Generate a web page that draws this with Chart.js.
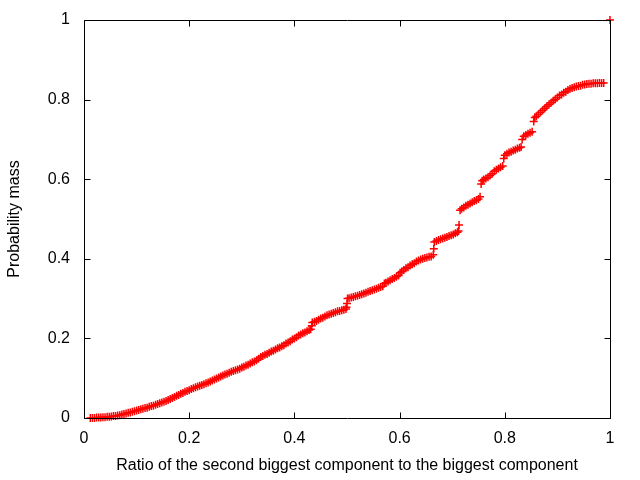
<!DOCTYPE html>
<html>
<head>
<meta charset="utf-8">
<script src="https://cdn.jsdelivr.net/npm/chart.js@4.4.1/dist/chart.umd.min.js"></script>
<style>
html,body{margin:0;padding:0;background:#fff;}
#wrap{width:640px;height:480px;}
</style>
</head>
<body>
<div id="wrap"><canvas id="c" width="640" height="480"></canvas></div>
<script>
const xTitle = "Ratio of the second biggest component to the biggest component";
const yTitle = "Probability mass";
const xTicks = [0, 0.2, 0.4, 0.6, 0.8, 1];
const yTicks = [0, 0.2, 0.4, 0.6, 0.8, 1];

const ratio = [
0.012,0.016,0.020,0.024,0.028,0.032,0.036,0.040,0.044,0.048,
0.052,0.056,0.060,0.064,0.068,0.072,0.076,0.080,0.084,0.088,
0.092,0.096,0.100,0.104,0.108,0.112,0.116,0.120,0.124,0.128,
0.132,0.136,0.140,0.144,0.148,0.152,0.156,0.160,0.164,0.168,
0.172,0.176,0.180,0.184,0.188,0.192,0.196,0.200,0.204,0.208,
0.212,0.216,0.220,0.224,0.228,0.232,0.236,0.240,0.244,0.248,
0.252,0.256,0.260,0.264,0.268,0.272,0.276,0.280,0.284,0.288,
0.292,0.296,0.300,0.304,0.308,0.312,0.316,0.320,0.324,0.328,
0.332,0.336,0.340,0.344,0.348,0.352,0.356,0.360,0.364,0.368,
0.372,0.376,0.380,0.384,0.388,0.392,0.396,0.400,0.404,0.408,
0.412,0.416,0.420,0.424,0.428,0.431,0.433,0.434,0.438,0.442,
0.446,0.450,0.454,0.458,0.462,0.466,0.470,0.474,0.478,0.482,
0.486,0.490,0.494,0.498,0.499,0.500,0.501,0.504,0.508,0.512,
0.516,0.520,0.524,0.528,0.532,0.536,0.540,0.544,0.548,0.552,
0.556,0.560,0.564,0.568,0.571,0.574,0.578,0.582,0.586,0.590,
0.594,0.598,0.601,0.604,0.608,0.612,0.616,0.620,0.624,0.628,
0.632,0.636,0.640,0.644,0.648,0.652,0.656,0.660,0.664,0.665,
0.666,0.670,0.674,0.678,0.682,0.686,0.690,0.694,0.698,0.702,
0.706,0.710,0.712,0.713,0.715,0.718,0.722,0.726,0.730,0.734,
0.738,0.742,0.746,0.750,0.753,0.755,0.757,0.760,0.764,0.768,
0.772,0.776,0.780,0.784,0.788,0.792,0.796,0.798,0.800,0.804,
0.808,0.812,0.816,0.820,0.824,0.828,0.831,0.833,0.836,0.840,
0.844,0.848,0.852,0.855,0.857,0.860,0.864,0.868,0.872,0.876,
0.880,0.884,0.888,0.892,0.896,0.900,0.904,0.908,0.912,0.916,
0.920,0.924,0.928,0.932,0.936,0.940,0.944,0.948,0.952,0.956,
0.960,0.964,0.968,0.972,0.976,0.980,0.984,0.988,1.000
];
const mass = [
0.000,0.000,0.000,0.001,0.001,0.001,0.002,0.002,0.003,0.003,
0.004,0.005,0.005,0.006,0.007,0.009,0.010,0.011,0.013,0.014,
0.016,0.017,0.019,0.020,0.022,0.023,0.025,0.026,0.028,0.030,
0.031,0.033,0.035,0.037,0.039,0.041,0.043,0.045,0.048,0.050,
0.053,0.056,0.058,0.061,0.063,0.066,0.068,0.070,0.073,0.075,
0.077,0.079,0.081,0.083,0.085,0.087,0.089,0.092,0.094,0.097,
0.099,0.102,0.104,0.107,0.109,0.111,0.114,0.116,0.118,0.120,
0.122,0.124,0.127,0.129,0.132,0.134,0.137,0.140,0.142,0.145,
0.149,0.153,0.156,0.159,0.161,0.164,0.167,0.169,0.172,0.175,
0.177,0.180,0.183,0.187,0.190,0.193,0.197,0.200,0.203,0.207,
0.210,0.213,0.215,0.218,0.221,0.223,0.232,0.240,0.242,0.244,
0.247,0.250,0.252,0.255,0.258,0.260,0.262,0.264,0.266,0.268,
0.269,0.271,0.272,0.274,0.278,0.288,0.300,0.301,0.303,0.304,
0.306,0.307,0.309,0.311,0.313,0.315,0.317,0.319,0.321,0.323,
0.325,0.327,0.329,0.331,0.338,0.340,0.343,0.346,0.349,0.352,
0.355,0.358,0.365,0.368,0.372,0.376,0.379,0.383,0.386,0.389,
0.393,0.396,0.398,0.400,0.402,0.403,0.405,0.406,0.410,0.425,
0.442,0.445,0.447,0.449,0.451,0.453,0.455,0.457,0.459,0.461,
0.464,0.467,0.470,0.485,0.522,0.526,0.529,0.533,0.536,0.539,
0.542,0.545,0.547,0.550,0.556,0.588,0.596,0.599,0.602,0.605,
0.609,0.614,0.620,0.624,0.627,0.630,0.633,0.652,0.660,0.664,
0.667,0.669,0.672,0.674,0.677,0.679,0.681,0.700,0.708,0.711,
0.714,0.717,0.719,0.745,0.755,0.758,0.763,0.768,0.773,0.778,
0.783,0.788,0.792,0.797,0.801,0.805,0.810,0.813,0.817,0.820,
0.824,0.827,0.829,0.831,0.833,0.834,0.835,0.837,0.838,0.839,
0.840,0.840,0.841,0.841,0.841,0.842,0.842,0.842,1.000
];

const FONT = "'Liberation Sans', Arial, sans-serif";

const framePlugin = {
  id: 'frame',
  afterDatasetsDraw(chart) {
    const {ctx, chartArea: a, scales} = chart;
    ctx.save();
    ctx.strokeStyle = '#000';
    ctx.lineWidth = 1;
    ctx.beginPath();
    const L = Math.round(a.left) + 0.5, R = Math.round(a.right) + 0.5;
    const T = Math.round(a.top) + 0.5, B = Math.round(a.bottom) + 0.5;
    ctx.rect(L, T, R - L, B - T);
    const len = 6;
    xTicks.forEach(v => {
      const px = Math.round(scales.x.getPixelForValue(v)) + 0.5;
      ctx.moveTo(px, B); ctx.lineTo(px, B - len);
      ctx.moveTo(px, T); ctx.lineTo(px, T + len);
    });
    yTicks.forEach(v => {
      const py = Math.round(scales.y.getPixelForValue(v)) + 0.5;
      ctx.moveTo(L, py); ctx.lineTo(L + len, py);
      ctx.moveTo(R, py); ctx.lineTo(R - len, py);
    });
    ctx.stroke();
    ctx.restore();
  }
};

new Chart(document.getElementById('c'), {
  type: 'scatter',
  data: {
    datasets: [{
      data: ratio.map((r, i) => ({x: r, y: mass[i]})),
      pointStyle: 'cross',
      pointRadius: 4,
      pointHoverRadius: 4,
      borderColor: '#ff0000',
      backgroundColor: '#ff0000',
      pointBorderWidth: 1.5,
      clip: false
    }]
  },
  options: {
    responsive: false,
    animation: false,
    events: [],
    layout: {padding: {left: 0, right: 30, top: 20, bottom: 0}},
    plugins: {legend: {display: false}, tooltip: {enabled: false}},
    scales: {
      x: {
        type: 'linear', min: 0, max: 1,
        afterBuildTicks: s => { s.ticks = xTicks.map(v => ({value: v})); },
        afterFit: s => { s.height = 62; s.paddingLeft = 0; s.paddingRight = 0; },
        grid: {display: false, drawTicks: false},
        border: {display: false},
        ticks: {
          padding: 11, color: '#000', maxRotation: 0,
          font: {family: FONT, size: 16},
          callback: v => String(Number(v.toFixed(1)))
        },
        title: {display: true, text: xTitle, color: '#000',
          font: {family: FONT, size: 16}, padding: {top: 0, bottom: 5}}
      },
      y: {
        type: 'linear', min: 0, max: 1,
        afterBuildTicks: s => { s.ticks = yTicks.map(v => ({value: v})); },
        afterFit: s => { s.width = 84; s.paddingTop = 0; s.paddingBottom = 0; },
        grid: {display: false, drawTicks: false},
        border: {display: false},
        ticks: {
          padding: 14, color: '#000',
          font: {family: FONT, size: 16},
          callback: v => String(Number(v.toFixed(1)))
        },
        title: {display: true, text: yTitle, color: '#000',
          font: {family: FONT, size: 16}, padding: {top: 5, bottom: 0}}
      }
    }
  },
  plugins: [framePlugin]
});
</script>
</body>
</html>
